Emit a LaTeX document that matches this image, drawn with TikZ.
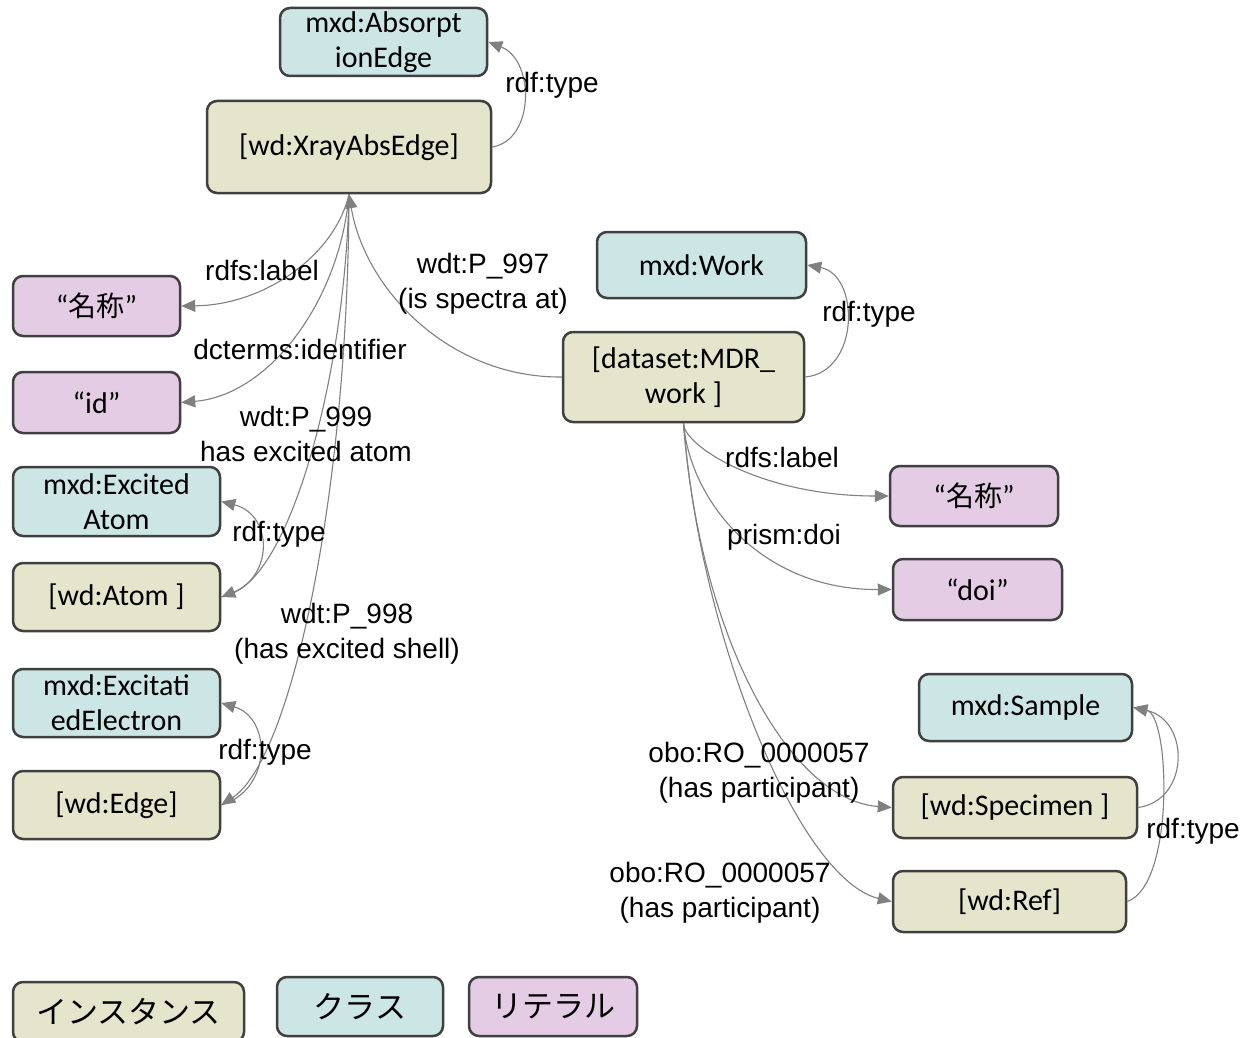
\documentclass[tikz,border=0pt]{standalone}
\usepackage{fontspec}
\setmainfont{Carlito}
\newfontfamily\lab{Liberation Sans}
\newfontfamily\cjk{Noto Sans CJK JP}
\usetikzlibrary{arrows.meta}
\definecolor{inst}{RGB}{229,229,204}
\definecolor{cls}{RGB}{204,229,229}
\definecolor{lit}{RGB}{229,204,229}
\definecolor{bd}{RGB}{64,64,64}
\definecolor{ln}{RGB}{128,128,128}
\begin{document}
\begin{tikzpicture}[x=1pt,y=-1pt,
 box/.style={rounded corners=10pt, draw=bd, line width=2.5pt, align=center, inner sep=0pt, font=\fontsize{30}{35}\selectfont, text=black},
 instbox/.style={box, fill=inst},
 clsbox/.style={box, fill=cls},
 litbox/.style={box, fill=lit},
 rel/.style={draw=ln, line width=1.1pt, -{Triangle[length=14pt,width=12pt]}},
 elab/.style={font=\lab\fontsize{28}{35}\selectfont, align=center, inner sep=0pt},
 legtext/.style={font=\cjk\fontsize{31}{36}\selectfont}
]
\useasboundingbox[fill=white] (0,0) rectangle (1244,1038);

% nodes
\node[clsbox, minimum width=207pt, minimum height=68pt] (absedge) at (383.5,42) {mxd:Absorpt\\ionEdge};
\node[instbox, minimum width=284pt, minimum height=92pt] (xray) at (349,147) {[wd:XrayAbsEdge]};
\node[litbox, minimum width=167pt, minimum height=60pt] (lname) at (96.5,306) {“{\cjk\fontsize{28}{34}\selectfont 名称}”};
\node[litbox, minimum width=167pt, minimum height=61pt] (lid) at (96.5,402.5) {“id”};
\node[clsbox, minimum width=207pt, minimum height=69pt] (excatom) at (116.5,501.5) {mxd:Excited\\Atom};
\node[instbox, minimum width=207pt, minimum height=68pt] (atom) at (116.5,597) {[wd:Atom ]};
\node[clsbox, minimum width=207pt, minimum height=68pt] (excel) at (116.5,703) {mxd:Excitati\\edElectron};
\node[instbox, minimum width=207pt, minimum height=68pt] (edge) at (116.5,805) {[wd:Edge]};
\node[clsbox, minimum width=209pt, minimum height=66pt] (work) at (701.5,265) {mxd:Work};
\node[instbox, minimum width=241pt, minimum height=90pt] (mdr) at (683.5,377) {[dataset:MDR\_\\work ]};
\node[litbox, minimum width=168pt, minimum height=60pt] (rname) at (974,496) {“{\cjk\fontsize{28}{34}\selectfont 名称}”};
\node[litbox, minimum width=169pt, minimum height=61pt] (doi) at (977.5,589.5) {“doi”};
\node[clsbox, minimum width=213pt, minimum height=67pt] (sample) at (1025.5,707.5) {mxd:Sample};
\node[instbox, minimum width=244pt, minimum height=61pt] (specimen) at (1015,807.5) {[wd:Specimen ]};
\node[instbox, minimum width=233pt, minimum height=61pt] (ref) at (1009.5,901.5) {[wd:Ref]};

% legend
\node[instbox, minimum width=231pt, minimum height=60pt, legtext] (leg1) at (128.5,1012) {インスタンス};
\node[clsbox, minimum width=166pt, minimum height=59pt, legtext] (leg2) at (360,1006.5) {クラス};
\node[litbox, minimum width=168pt, minimum height=59pt, legtext] (leg3) at (553,1006.5) {リテラル};

% connectors
\draw[rel] (xray.east) .. controls (535,140) and (535,60) .. (absedge.east);
\draw[rel] (xray.south) .. controls (335,255) and (265,305) .. (lname.east);
\draw[rel] (xray.south) .. controls (340,300) and (270,395) .. (lid.east);
\draw[rel] (xray.south) .. controls (345,380) and (290,570) .. (atom.east);
\draw[rel] (xray.south) .. controls (348,500) and (290,760) .. (edge.east);
\draw[rel] (mdr.west) .. controls (450,378) and (365,290) .. (xray.south);
\draw[rel] (atom.east) .. controls (275,585) and (275,515) .. (excatom.east);
\draw[rel] (edge.east) .. controls (272,790) and (272,718) .. (excel.east);
\draw[rel] (mdr.east) .. controls (860,372) and (860,275) .. (work.east);
\draw[rel] (mdr.south) .. controls (683,445) and (760,496) .. (rname.west);
\draw[rel] (mdr.south) .. controls (690,500) and (760,590) .. (doi.west);
\draw[rel] (mdr.south) .. controls (700,640) and (790,800) .. (specimen.west);
\draw[rel] (mdr.south) .. controls (700,640) and (800,880) .. (ref.west);
\draw[rel] (specimen.east) .. controls (1190,800) and (1190,720) .. (sample.east);
\draw[rel] (ref.east) .. controls (1175,885) and (1170,715) .. (sample.east);

% labels
\node[elab] (l1) at (552,85) {rdf:type};
\node[elab] (l2) at (262,270) {rdfs:label};
\node[elab] (l3) at (300,349) {dcterms:identifier};
\node[elab] (l4) at (306,434) {wdt:P\_999\\has excited atom};
\node[elab] (l5) at (483,284) {wdt:P\_997\\(is spectra at)};
\node[elab] (l6) at (279,534) {rdf:type};
\node[elab] (l7) at (347,634) {wdt:P\_998\\(has excited shell)};
\node[elab] (l8) at (265,752) {rdf:type};
\node[elab] (l9) at (869,314) {rdf:type};
\node[elab] (l10) at (782,457) {rdfs:label};
\node[elab] (l11) at (784,537) {prism:doi};
\node[elab] (l12) at (759,773) {obo:RO\_0000057\\(has participant)};
\node[elab] (l13) at (720,893) {obo:RO\_0000057\\(has participant)};
\node[elab] (l14) at (1193,831) {rdf:type};
\end{tikzpicture}
\end{document}
